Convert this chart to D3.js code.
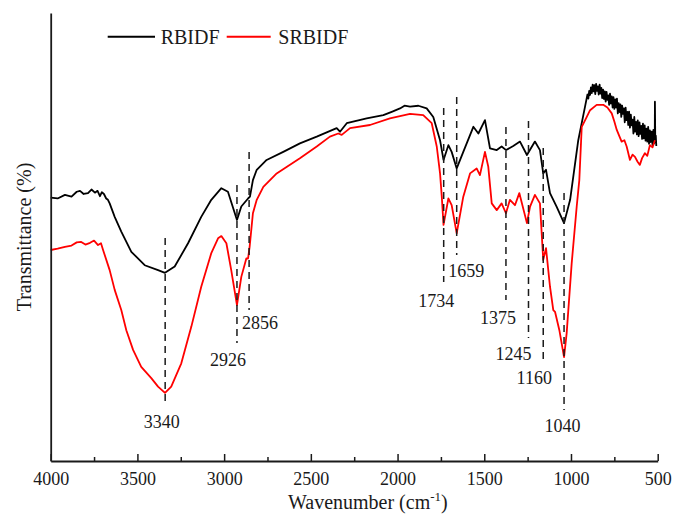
<!DOCTYPE html>
<html>
<head>
<meta charset="utf-8">
<script src="https://cdn.jsdelivr.net/npm/d3@7"></script>
<style>
  html, body { margin: 0; padding: 0; background: #fff; }
  svg { display: block; }
</style>
</head>
<body>
<svg id="chart" width="673" height="515"></svg>
<script>
// ---------- DATA ----------
const seriesNames = ["RBIDF", "SRBIDF"];

// RBIDF: [wavenumber (cm-1), transmittance (a.u., %)]
const rbidf = [
  [4000,58.8],[3960,58.6],[3918,59.4],[3880,59.0],[3850,60.1],[3831,60.3],[3810,59.6],[3785,59.8],[3765,60.6],[3745,59.9],
  [3730,60.3],[3716,59.1],[3705,60.0],[3693,59.6],[3680,58.6],[3670,58.3],[3660,57.5],[3631,54.5],[3593,51.2],[3535,46.7],
  [3458,43.7],[3381,42.6],[3341,42.0],[3285,43.4],[3208,48.6],[3132,54.5],[3074,58.3],[3016,60.9],[2978,60.1],[2926,53.8],
  [2901,56.8],[2862,58.6],[2851,59.0],[2834,62.7],[2812,65.0],[2755,67.2],[2659,69.0],[2563,70.9],[2466,72.4],[2351,74.3],
  [2332,73.5],[2293,75.4],[2178,76.5],[2082,77.2],[2030,78.0],[1986,78.7],[1960,79.3],[1928,79.1],[1880,79.3],[1832,78.7],
  [1794,76.8],[1755,71.6],[1735,67.2],[1707,70.5],[1688,69.0],[1659,65.3],[1621,69.0],[1563,74.6],[1534,73.1],[1496,76.1],
  [1467,69.8],[1428,69.4],[1400,70.2],[1374,69.4],[1333,70.3],[1294,71.3],[1254,68.3],[1208,71.3],[1179,69.4],[1160,64.2],
  [1144,65.0],[1121,59.8],[1083,56.8],[1040,53.1],[1005,58.3],[958,71.6],[919,79.1],
  [905,81.8],[900,80.9],[895,82.6],[890,81.7],[885,83.4],[880,82.1],[875,84.0],[870,82.5],[865,83.9],[860,81.9],
  [855,84.2],[850,82.6],[845,83.6],[840,81.8],[835,84.0],[830,82.0],[825,83.3],[820,81.0],[815,82.9],[810,80.8],
  [805,82.5],[800,80.2],[795,82.4],[790,80.6],[785,81.6],[780,79.5],[775,82.0],[770,79.8],[765,81.4],[760,78.9],
  [755,81.2],[750,78.6],[745,80.7],[740,78.9],[735,80.9],[730,77.6],[725,79.9],[720,77.9],[715,79.6],[710,76.8],
  [705,79.3],[700,77.5],[695,78.7],[690,75.6],[685,78.9],[680,76.1],[675,77.9],[670,75.0],[665,78.0],[660,74.4],
  [655,77.3],[650,74.9],[645,76.2],[640,73.1],[635,76.8],[630,73.5],[625,75.7],[620,72.9],[615,76.0],[610,72.5],
  [605,75.6],[600,73.0],[595,74.8],[590,71.9],[585,75.3],[580,72.0],[575,74.9],[570,71.5],[565,74.2],[560,71.3],
  [555,74.6],[550,70.8],[545,73.8],[540,71.2],[535,73.5],[530,70.5],[525,73.9],[520,70.9],[517,72.0],[516,80.2],
  [514,71.5],[511,72.6],[508,70.3]
];

// SRBIDF
const srbidf = [
  [4000,47.1],[3960,47.4],[3918,47.8],[3880,48.1],[3850,48.8],[3824,48.9],[3800,48.3],[3773,48.7],[3750,49.2],[3727,48.2],
  [3710,48.6],[3698,47.1],[3660,42.6],[3631,38.2],[3593,33.7],[3564,29.2],[3525,24.8],[3478,21.0],[3420,18.5],[3381,16.6],
  [3341,15.2],[3305,16.6],[3247,21.8],[3189,30.0],[3132,38.9],[3074,46.4],[3035,49.7],[3016,50.2],[2987,48.6],[2959,42.6],
  [2926,34.8],[2901,41.1],[2872,45.2],[2862,45.2],[2853,47.8],[2834,55.3],[2812,58.3],[2774,61.2],[2697,64.2],[2563,67.6],
  [2466,70.2],[2390,72.4],[2342,73.1],[2322,72.8],[2274,74.3],[2159,75.0],[2044,76.5],[1928,77.5],[1852,77.2],[1803,75.4],
  [1774,70.2],[1755,64.2],[1745,59.0],[1735,52.7],[1707,58.6],[1688,57.1],[1659,50.8],[1621,59.0],[1582,64.2],[1544,65.3],
  [1525,63.8],[1496,69.0],[1477,65.7],[1457,57.5],[1428,56.0],[1400,57.5],[1375,55.3],[1352,58.3],[1323,57.1],[1298,59.8],
  [1254,53.1],[1236,56.8],[1208,59.4],[1179,57.5],[1160,44.9],[1144,47.5],[1121,38.9],[1102,33.7],[1092,33.3],[1067,29.2],
  [1040,23.2],[1025,28.5],[996,44.1],[967,56.8],[952,62.7],[938,74.6],[909,76.8],[890,78.3],[852,79.5],[814,79.5],
  [790,78.9],[765,77.6],[750,75.8],[736,73.9],[720,72.4],[708,71.3],[692,71.6],[679,70.2],[660,67.2],[645,68.4],
  [631,67.9],[616,66.8],[603,66.1],[590,67.6],[574,68.7],[560,68.1],[545,70.5],[530,70.0],[516,71.6]
];

// Marked peaks (cm-1)
const peakLabels = [3340, 2926, 2856, 1734, 1659, 1375, 1245, 1160, 1040];

const xTicks = [4000, 3500, 3000, 2500, 2000, 1500, 1000, 500];
const xMinorTicks = [3750, 3250, 2750, 2250, 1750, 1250, 750];

// ---------- LAYOUT ----------
const FONT = "'Liberation Serif', 'Times New Roman', Times, serif";
const plotLeft = 50.7, plotRight = 657.7, plotTop = 13, plotBottom = 461;
// annotation layout: [lineTopPx, lineBottomPx, labelDx, labelBaselinePx] per peak
const peakLayout = [
  [238, 403, -3.5, 428],
  [185, 343, -9, 366],
  [152, 310, 11, 329],
  [108, 282, -7.5, 307],
  [97, 255, 9.5, 277],
  [127, 300, -8, 324],
  [121, 338, -15, 360],
  [148, 363, -9, 383.5],
  [193, 410, -1.5, 431.5]
];

const svg = d3.select("#chart").style("font-family", FONT);
const x = d3.scaleLinear().domain([4000, 500]).range([plotLeft, plotRight]);
const y = d3.scaleLinear().domain([0, 100]).range([plotBottom, plotTop]);

// curves
const line = d3.line().x(d => x(d[0])).y(d => y(d[1]));
svg.append("path").datum(rbidf).attr("d", line)
  .attr("fill", "none").attr("stroke", "#000").attr("stroke-width", 1.8).attr("stroke-linejoin", "round");
svg.append("path").datum(srbidf).attr("d", line)
  .attr("fill", "none").attr("stroke", "#ff0000").attr("stroke-width", 1.8).attr("stroke-linejoin", "round");

// dashed peak markers
const ann = svg.append("g");
peakLabels.forEach((p, i) => {
  const [t, b, dx, by] = peakLayout[i];
  ann.append("line")
    .attr("x1", x(p)).attr("x2", x(p)).attr("y1", t).attr("y2", b)
    .attr("stroke", "#1a1a1a").attr("stroke-width", 1.5).attr("stroke-dasharray", "7,5");
  ann.append("text")
    .attr("x", x(p) + dx).attr("y", by)
    .attr("text-anchor", "middle").style("font-family", FONT).style("font-size", "18px").attr("fill", "#1a1a1a")
    .text(p);
});

// x axis
const xAxis = d3.axisBottom(x).tickValues(xTicks).tickFormat(d3.format("d"))
  .tickSizeInner(-7).tickSizeOuter(0).tickPadding(11);
const gx = svg.append("g").attr("transform", `translate(0,${plotBottom})`).call(xAxis);
gx.attr("font-family", null).attr("font-size", null);
gx.select(".domain").attr("stroke", "#1a1a1a").attr("stroke-width", 1.8);
gx.selectAll(".tick line").attr("stroke", "#1a1a1a").attr("stroke-width", 1.5);
gx.selectAll(".tick text").style("font-size", "18px").style("font-family", FONT).attr("fill", "#1a1a1a");

const gxm = svg.append("g").attr("transform", `translate(0,${plotBottom})`)
  .call(d3.axisBottom(x).tickValues(xMinorTicks).tickSizeInner(-4).tickSizeOuter(0).tickFormat(""));
gxm.select(".domain").remove();
gxm.selectAll(".tick line").attr("stroke", "#1a1a1a").attr("stroke-width", 1.5);

// y axis (line only)
const yAxis = d3.axisLeft(y).tickValues([]).tickSizeOuter(0);
const gy = svg.append("g").attr("transform", `translate(${plotLeft},0)`).call(yAxis);
gy.select(".domain").attr("stroke", "#1a1a1a").attr("stroke-width", 1.8);

// axis titles
const xt = svg.append("text").attr("x", 288).attr("y", 509)
  .style("font-family", FONT).style("font-size", "20px").attr("fill", "#1a1a1a");
xt.append("tspan").text("Wavenumber (cm");
xt.append("tspan").style("font-size", "13px").attr("dy", -8).text("-1");
xt.append("tspan").attr("dy", 8).text(")");

svg.append("text")
  .attr("transform", "translate(31,237) rotate(-90)")
  .attr("text-anchor", "middle").style("font-family", FONT).style("font-size", "20px").attr("fill", "#1a1a1a")
  .text("Transmittance (%)");

// legend
const legend = svg.append("g");
const legItems = [
  {name: seriesNames[0], color: "#000", x1: 107.7, x2: 155, tx: 160.7},
  {name: seriesNames[1], color: "#ff0000", x1: 226.7, x2: 270.7, tx: 278.3}
];
legItems.forEach(it => {
  legend.append("line").attr("x1", it.x1).attr("x2", it.x2).attr("y1", 36.7).attr("y2", 36.7)
    .attr("stroke", it.color).attr("stroke-width", 2);
  legend.append("text").attr("x", it.tx).attr("y", 44)
    .style("font-family", FONT).style("font-size", "20px").attr("fill", "#1a1a1a").text(it.name);
});
</script>
</body>
</html>
